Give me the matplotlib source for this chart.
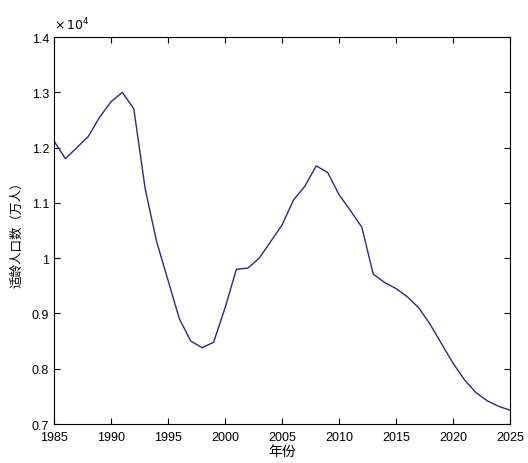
import matplotlib
matplotlib.use("Agg")
import matplotlib.pyplot as plt
from matplotlib.ticker import FuncFormatter

plt.rcParams['font.family'] = ['Liberation Sans', 'Noto Sans CJK SC', 'DejaVu Sans']

years = list(range(1985, 2026))
population = [12120, 11800, 12000, 12200, 12550, 12830, 13000, 12700, 11250, 10300,
              9600, 8900, 8500, 8380, 8480, 9100, 9800, 9820, 10000, 10300,
              10600, 11050, 11300, 11670, 11550, 11150, 10860, 10560, 9710, 9560,
              9450, 9300, 9100, 8800, 8450, 8100, 7800, 7570, 7420, 7320, 7250]

xticks = [1985, 1990, 1995, 2000, 2005, 2010, 2015, 2020, 2025]
yticks = [7000, 8000, 9000, 10000, 11000, 12000, 13000, 14000]

fig = plt.figure(figsize=(5.28, 4.64), dpi=100)
ax = fig.add_axes([0.1023, 0.084, 0.8637, 0.834])
ax.plot(years, population, color='#2a2a80', linewidth=1.0)
ax.set_xlim(1985, 2025)
ax.set_ylim(7000, 14000)
ax.set_xticks(xticks)
ax.set_yticks(yticks)
ax.yaxis.set_major_formatter(FuncFormatter(lambda v, p: f"{v/1e4:g}"))
ax.tick_params(direction='in', top=True, right=True, labelsize=9, length=4, width=0.8)
ax.tick_params(axis='x', pad=5)
for s in ax.spines.values():
    s.set_linewidth(0.8)
ax.text(0.0, 1.012, r'$\times\,10^{4}$', transform=ax.transAxes, fontsize=9,
        ha='left', va='bottom')
ax.set_xlabel('年份', fontsize=10, family=['Noto Sans CJK SC', 'DejaVu Sans'], labelpad=1)
ax.set_ylabel('适龄人口数（万人）', fontsize=9, family=['Noto Sans CJK SC', 'DejaVu Sans'], labelpad=6)
fig.savefig('out.png', dpi=100)
